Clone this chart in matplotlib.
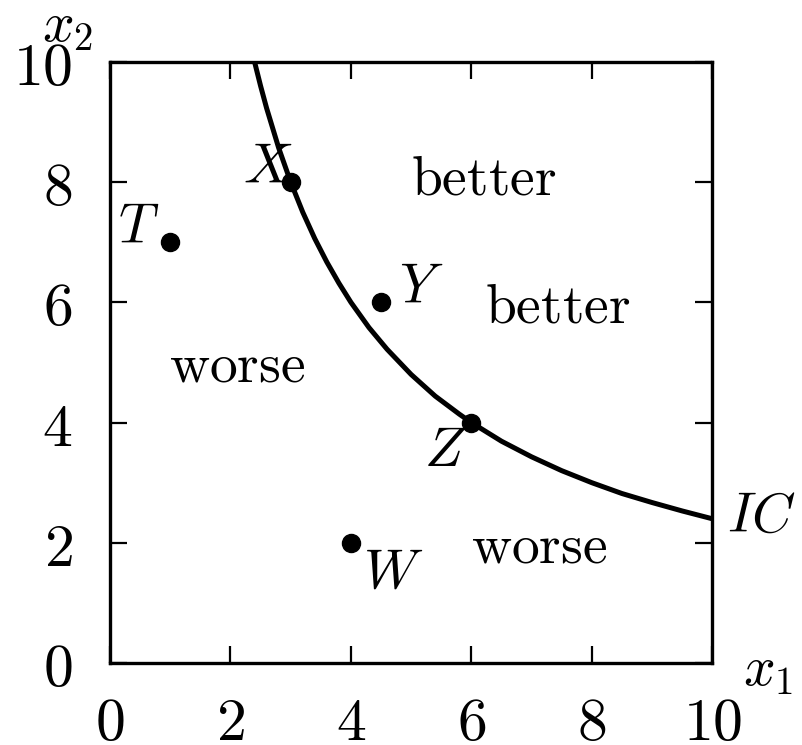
import matplotlib
matplotlib.use("Agg")
import matplotlib.pyplot as plt
from matplotlib.ticker import FuncFormatter

plt.rcParams['mathtext.fontset'] = 'cm'

# indifference curve, points
ic_x = [2.4, 2.5, 2.6, 2.8, 3.0, 3.2, 3.4, 3.6, 3.8, 4.0, 4.3, 4.6, 5.0, 5.4,
        5.8, 6.0, 6.5, 7.0, 7.5, 8.0, 8.5, 9.0, 9.5, 10.0]
ic_y = [10.0, 9.6, 9.23, 8.57, 8.0, 7.5, 7.06, 6.67, 6.32, 6.0, 5.58, 5.22,
        4.8, 4.44, 4.14, 4.0, 3.69, 3.43, 3.2, 3.0, 2.82, 2.67, 2.53, 2.4]

# bundles
pt_names = ['X', 'Y', 'Z', 'T', 'W']
pt_x = [3, 4.5, 6, 1, 4]
pt_y = [8, 6, 4, 7, 2]

ticks = [0, 2, 4, 6, 8, 10]

fig = plt.figure(figsize=(8.03, 7.45), dpi=100)
ax = fig.add_axes([0.137, 0.110, 0.750, 0.807])

ax.plot(ic_x, ic_y, color='black', lw=3.6, solid_capstyle='butt')
ax.plot(pt_x, pt_y, 'o', color='black', ms=13, zorder=3)

# point labels
lbl_pos = {'X': (2.61, 8.24), 'Y': (5.17, 6.24), 'Z': (5.56, 3.53),
           'T': (0.47, 7.24), 'W': (4.70, 1.51)}
for n in pt_names:
    ax.text(lbl_pos[n][0], lbl_pos[n][1], '$' + n + '$', fontsize=40,
            ha='center', va='center')

ax.text(6.21, 8.04, r'$\mathrm{better}$', fontsize=40, ha='center', va='center')
ax.text(7.43, 5.92, r'$\mathrm{better}$', fontsize=40, ha='center', va='center')
ax.text(2.11, 4.94, r'$\mathrm{worse}$', fontsize=40, ha='center', va='center')
ax.text(7.13, 1.93, r'$\mathrm{worse}$', fontsize=40, ha='center', va='center')

ax.text(10.25, 2.43, '$IC$', fontsize=40, ha='left', va='center', clip_on=False)
ax.text(10.93, -0.13, '$x_1$', fontsize=40, ha='center', va='center', clip_on=False)
ax.text(-0.7, 10.58, '$x_2$', fontsize=40, ha='center', va='center', clip_on=False)

ax.set_xlim(0, 10)
ax.set_ylim(0, 10)
ax.set_xticks(ticks)
ax.set_yticks(ticks)
fmt = FuncFormatter(lambda v, p: '$%d$' % v)
ax.xaxis.set_major_formatter(fmt)
ax.yaxis.set_major_formatter(fmt)
ax.tick_params(direction='in', length=12, width=1.6, labelsize=43,
               top=True, right=True)
ax.tick_params(axis='x', pad=22)
ax.tick_params(axis='y', pad=27)
for s in ax.spines.values():
    s.set_linewidth(2.4)

fig.savefig('out.png', dpi=100)
